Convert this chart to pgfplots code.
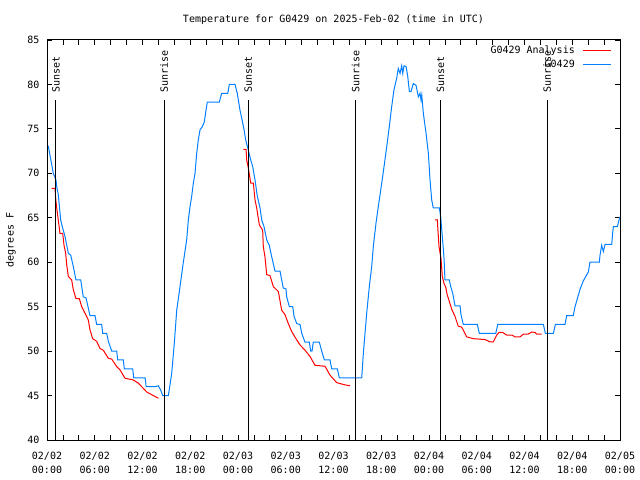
\documentclass[border=0pt]{standalone}
\usepackage{pgfplots}
\pgfplotsset{compat=1.18}
\usepackage{fontspec}
\setmainfont{DejaVu Sans Mono}

\definecolor{obsblue}{RGB}{0,128,255}
\definecolor{anared}{RGB}{255,0,0}

\begin{document}
\fontsize{10bp}{12bp}\selectfont
\begin{tikzpicture}
  % 640x480 canvas, plot box at (47,40)-(620,440) in image pixels
  \fill[white] (-47bp,-40bp) rectangle (593bp,440bp);
  \path[use as bounding box] (-47bp,-40bp) rectangle (593bp,440bp);
  \begin{axis}[
    scale only axis,
    width=573bp, height=400bp,
    xmin=0, xmax=72, ymin=40, ymax=85,
    xtick={0,6,...,72},
    minor xtick={2,4,8,10,14,16,20,22,26,28,32,34,38,40,44,46,50,52,56,58,62,64,68,70},
    xticklabels={{02/02\\00:00},{02/02\\06:00},{02/02\\12:00},{02/02\\18:00},
                 {02/03\\00:00},{02/03\\06:00},{02/03\\12:00},{02/03\\18:00},
                 {02/04\\00:00},{02/04\\06:00},{02/04\\12:00},{02/04\\18:00},
                 {02/05\\00:00}},
    ytick={40,45,...,85},
    tick align=inside,
    major tick length=5bp, minor tick length=5bp,
    tick style={black, line width=0.8bp},
    axis line style={line width=1bp},
    /pgf/number format/assume math mode=true,
    xticklabel style={font=\fontsize{10bp}{14bp}\selectfont, align=center, yshift=-9bp},
    yticklabel style={font=\fontsize{10bp}{12bp}\selectfont, xshift=-4bp},
    title={Temperature for G0429 on 2025-Feb-02 (time in UTC)},
    title style={at={(0.5,1)}, anchor=center, yshift=14bp, font=\fontsize{10bp}{12bp}\selectfont},
    clip mode=individual,
    legend plot pos=right,
    legend cell align=right,
    legend image code/.code={\draw[#1] (0bp,0bp) -- (28bp,0bp);},
    legend style={draw=none, fill=none, at={(1,1)}, anchor=north east,
      xshift=-8bp, yshift=-4bp, inner sep=0pt, row sep=1bp,
      font=\fontsize{10bp}{12bp}\selectfont,
      /tikz/every odd column/.append style={column sep=6bp}},
  ]
  % analysis, first night
  \addplot[anared, line width=1bp] coordinates {
    (0.59,68.3) (1.01,68.3) (1.09,67.2) (1.22,66.1) (1.42,64.75) (1.63,63.25)
    (1.97,63.25) (2.14,61.9) (2.35,61.0) (2.48,59.7) (2.68,58.4) (3.10,58.0)
    (3.31,56.9) (3.64,55.9) (4.06,55.9) (4.36,55.0) (4.78,54.25) (5.19,53.5)
    (5.40,52.4) (5.74,51.4) (6.24,51.1) (6.66,50.3) (7.07,50.1) (7.70,49.2)
    (8.13,49.1) (8.76,48.25) (9.17,47.9) (9.80,46.95) (10.85,46.75) (11.47,46.4)
    (11.90,46.0) (12.53,45.4) (13.36,45.0) (13.99,44.7)
  };
  \addlegendentry{G0429 Analysis}
  % analysis, second night
  \addplot[anared, line width=1bp, forget plot] coordinates {
    (24.67,72.7) (25.01,72.7) (25.09,71.5) (25.30,70.6) (25.60,68.9) (25.93,68.9)
    (26.14,67.0) (26.35,66.1) (26.68,64.2) (27.10,63.6) (27.18,61.75) (27.39,60.6)
    (27.61,58.6) (28.02,58.5) (28.44,57.25) (29.07,56.7) (29.49,54.6) (29.91,54.1)
    (30.32,53.1) (30.75,52.2) (31.38,51.25) (31.79,50.7) (32.42,50.1) (33.05,49.4)
    (33.68,48.4) (34.93,48.3) (35.56,47.3) (36.40,46.45) (37.45,46.2) (38.08,46.1)
  };
  % analysis, third night
  \addplot[anared, line width=1bp, forget plot] coordinates {
    (48.76,64.75) (49.05,64.75) (49.13,63.5) (49.26,61.75) (49.51,60.4) (49.67,58.4)
    (49.89,57.6) (50.10,57.2) (50.30,56.3) (50.55,55.6) (50.86,54.7) (51.27,53.9)
    (51.68,52.8) (52.11,52.7) (52.40,52.2) (52.74,51.6) (53.57,51.4) (55.04,51.3)
    (55.67,51.05) (56.08,51.05) (56.51,51.8) (56.80,52.1) (57.26,52.1) (57.76,51.8)
    (58.43,51.8) (58.81,51.6) (59.44,51.6) (59.85,51.9) (60.44,51.9) (60.91,52.15)
    (61.32,52.1) (61.54,51.9) (62.16,51.9)
  };
  % observations
  \addplot[obsblue, line width=1bp] coordinates {
    (0.16,73.1) (0.79,70.0) (1.13,69.25) (1.22,68.5) (1.42,67.6) (1.72,64.75)
    (1.92,64.0) (2.26,62.9) (2.68,61.0) (2.98,60.8) (3.31,59.5) (3.64,58.0)
    (4.24,58.0) (4.56,56.1) (4.90,56.0) (5.40,54.0) (6.03,54.0) (6.24,53.0)
    (6.87,53.0) (7.00,52.0) (7.50,52.0) (7.71,51.1) (8.13,50.0) (8.76,50.0)
    (8.88,49.0) (9.59,49.0) (9.72,48.0) (10.77,48.0) (10.90,47.0) (12.33,47.0)
    (12.46,46.0) (13.59,46.0) (14.00,46.1) (14.29,45.6) (14.54,45.0) (15.25,45.0)
    (15.67,47.5) (16.00,50.9) (16.30,54.6) (16.63,56.7) (17.10,59.8) (17.55,62.5)
    (17.76,64.75) (17.97,66.25) (18.18,67.4) (18.39,68.9) (18.60,70.0) (18.81,72.25)
    (19.01,73.75) (19.23,74.9) (19.52,75.25) (19.77,75.8) (19.98,77.1) (20.14,78.0)
    (21.65,78.0) (21.95,79.0) (22.71,79.0) (22.91,80.0) (23.62,80.0) (23.91,79.0)
    (24.25,77.1) (24.47,76.2) (24.76,74.9) (24.97,73.75) (25.30,72.6) (25.60,71.5)
    (25.85,70.75) (26.14,69.25) (26.43,67.4) (26.77,66.1) (26.98,64.75) (27.27,64.0)
    (27.61,62.5) (27.93,61.9) (28.24,60.6) (28.65,59.0) (29.28,59.0) (29.49,58.0)
    (29.69,57.1) (30.03,57.0) (30.12,56.1) (30.45,55.0) (30.88,55.0) (31.04,53.9)
    (31.38,53.1) (31.79,53.0) (32.01,52.0) (32.42,51.0) (32.96,51.0) (33.14,50.0)
    (33.30,50.0) (33.46,51.0) (34.22,51.0) (34.52,50.0) (34.85,49.0) (35.56,49.0)
    (35.78,48.0) (36.48,48.0) (36.73,47.0) (39.55,47.0) (39.75,49.75) (39.96,52.0)
    (40.17,54.25) (40.50,57.25) (40.80,59.5) (41.00,61.75) (41.34,64.4) (41.63,66.25)
    (42.06,68.9) (42.35,70.75) (42.69,73.0) (43.01,75.25) (43.31,77.5) (43.60,79.4)
    (43.94,80.7) (44.14,81.8) (44.36,81.25) (44.57,82.1) (44.70,81.25) (44.86,82.1)
    (45.12,82.0) (45.33,80.9) (45.53,79.2) (45.74,79.2) (46.03,80.1) (46.37,79.9)
    (46.66,78.6) (46.87,79.0) (47.00,78.25) (47.09,78.8) (47.29,76.75) (47.63,74.5)
    (47.92,72.25) (48.13,69.25) (48.34,67.0) (48.54,66.1) (49.30,66.1) (49.47,65.1)
    (49.64,63.25) (49.80,61.5) (49.89,60.4) (50.01,58.0) (50.55,58.0) (50.73,57.25)
    (50.98,56.5) (51.27,55.1) (51.90,55.1) (52.02,54.1) (52.31,53.0) (54.07,53.0)
    (54.32,52.0) (56.39,52.0) (56.64,53.0) (62.37,53.0) (62.62,52.0) (63.63,52.0)
    (63.88,53.0) (65.09,53.0) (65.30,54.0) (66.13,54.0) (66.35,55.0) (66.64,55.9)
    (66.98,56.95) (67.39,57.9) (68.02,58.9) (68.23,60.0) (69.40,60.0) (69.49,60.8)
    (69.70,61.9) (69.91,61.2) (70.12,62.0) (70.96,62.0) (71.09,63.4) (71.17,64.0)
    (71.67,64.0) (71.92,64.9) (72.00,65.1)
  };
  \addlegendentry{G0429}
  % sunset / sunrise markers
  \addplot[black, line width=1bp, forget plot] coordinates {(1.13,40) (1.13,78.25)};
  \addplot[black, line width=1bp, forget plot] coordinates {(14.73,40) (14.73,78.25)};
  \addplot[black, line width=1bp, forget plot] coordinates {(25.28,40) (25.28,78.25)};
  \addplot[black, line width=1bp, forget plot] coordinates {(38.77,40) (38.77,78.25)};
  \addplot[black, line width=1bp, forget plot] coordinates {(49.45,40) (49.45,78.25)};
  \addplot[black, line width=1bp, forget plot] coordinates {(62.85,40) (62.85,78.25)};
  \node[rotate=90, anchor=west, inner sep=0pt] at (axis cs:1.13,79.1) {Sunset};
  \node[rotate=90, anchor=west, inner sep=0pt] at (axis cs:14.73,79.1) {Sunrise};
  \node[rotate=90, anchor=west, inner sep=0pt] at (axis cs:25.28,79.1) {Sunset};
  \node[rotate=90, anchor=west, inner sep=0pt] at (axis cs:38.77,79.1) {Sunrise};
  \node[rotate=90, anchor=west, inner sep=0pt] at (axis cs:49.45,79.1) {Sunset};
  \node[rotate=90, anchor=west, inner sep=0pt] at (axis cs:62.85,79.1) {Sunrise};
  \end{axis}
  \node[rotate=90] at (-36bp,200bp) {degrees F};
\end{tikzpicture}
\end{document}
